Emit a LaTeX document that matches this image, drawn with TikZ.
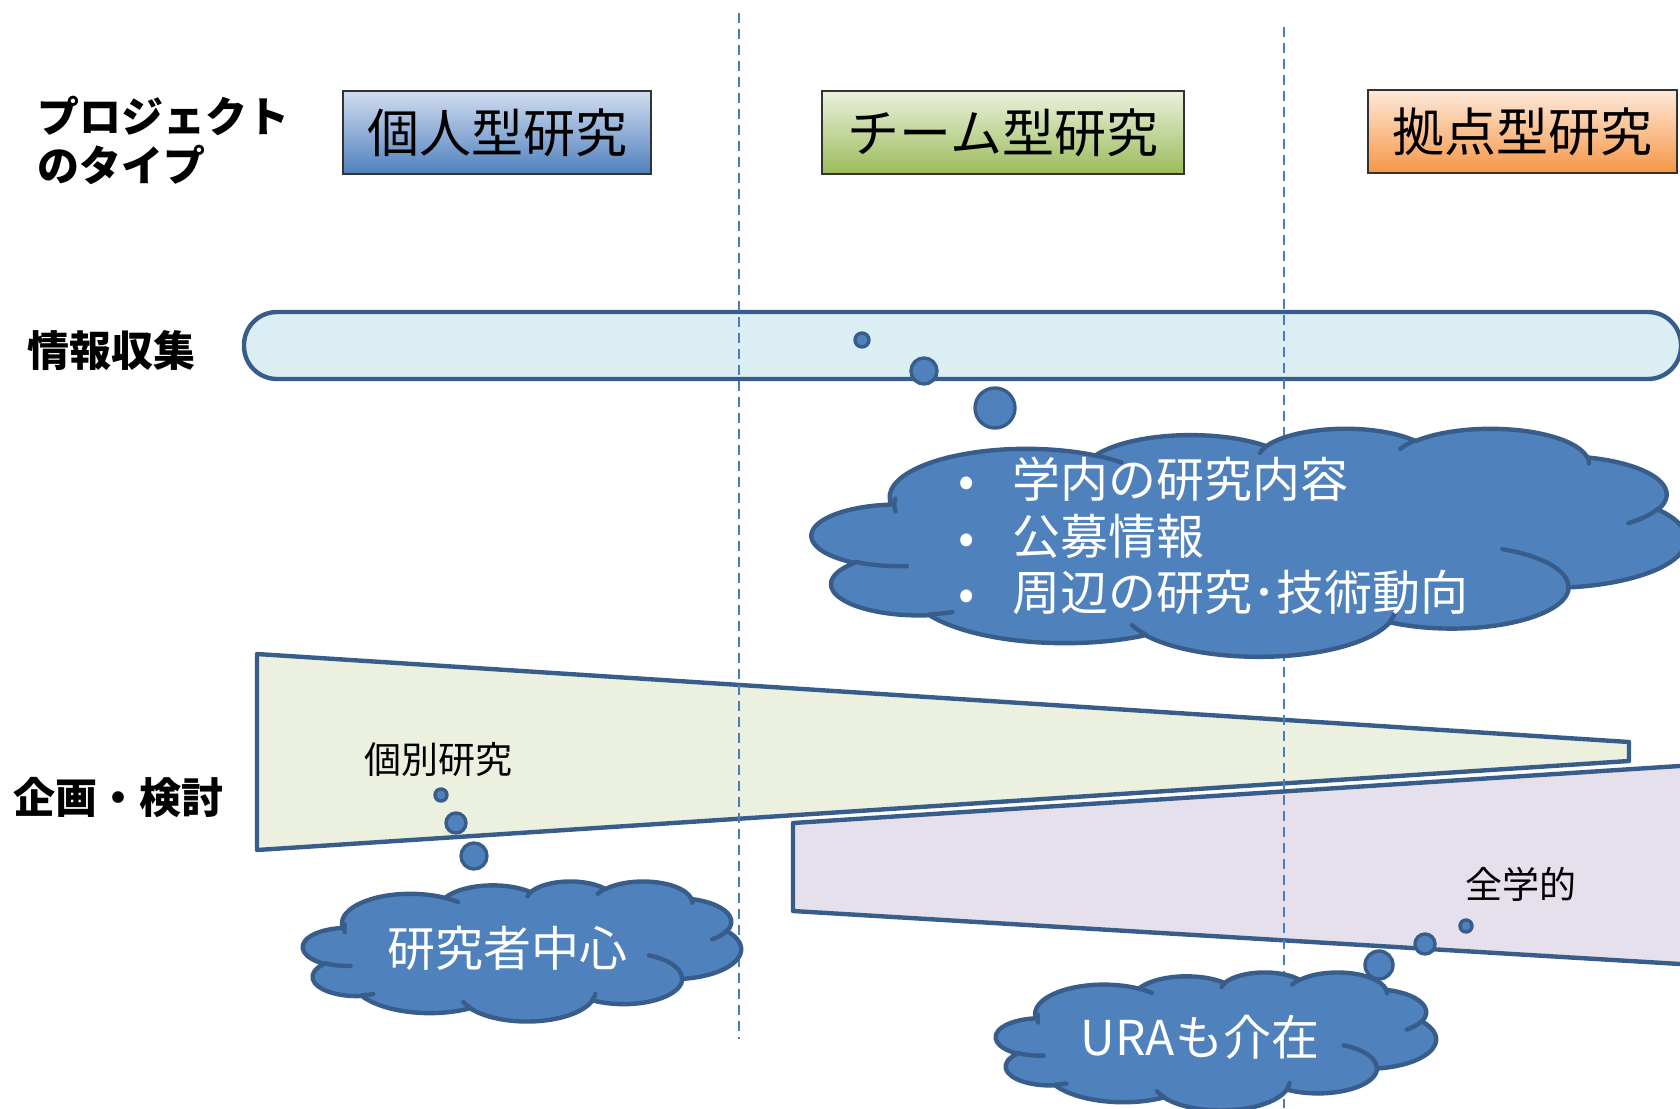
\documentclass[tikz,border=0pt]{standalone}
\usepackage{fontspec}
\setmainfont{Noto Sans CJK JP}
\definecolor{edge}{HTML}{385D8A}
\definecolor{cloudfill}{HTML}{4F81BD}
\definecolor{barfill}{HTML}{DBEEF4}
\definecolor{greenfill}{HTML}{EBF1DE}
\definecolor{purplefill}{HTML}{E5E0EC}
\definecolor{dashblue}{HTML}{4A7EBB}
\tikzset{
  declare function={
    vp(\cA,\cB,\cT)=atan2(\cA*sin(\cT),\cB*cos(\cT));
    dl(\cA,\cB,\cS,\cW)=vp(\cA,\cB,\cS+\cW)-vp(\cA,\cB,\cS)-360*round((vp(\cA,\cB,\cS+\cW)-vp(\cA,\cB,\cS)-\cW)/360);
  },
  oa/.style n args={4}{insert path={arc[x radius=#1, y radius=#2, start angle={vp(#1,#2,#3)}, delta angle={dl(#1,#2,#3,#4)}]}},
  typebox/.style={draw=black!80, line width=0.7pt, minimum height=41.5pt, inner sep=0pt, font=\fontsize{26}{30}\selectfont},
  cloudshape/.style={draw=edge, fill=cloudfill, line width=2.2pt, line join=round},
  cloudline/.style={draw=edge, line width=2.2pt, line cap=round},
  bubble/.style={draw=edge, fill=cloudfill, line width=1.7pt},
  sidelabel/.style={anchor=west, font=\fontsize{21}{24.5}\selectfont\bfseries, align=left, inner sep=0pt},
  cloudtext/.style={text=white, font=\fontsize{24}{28.25}\selectfont, inner sep=0pt},
  smalltext/.style={font=\fontsize{18.5}{22}\selectfont, inner sep=0pt},
  divider/.style={draw=dashblue, line width=0.8pt, dash pattern=on 5pt off 3pt}
}
% PowerPoint-like cloud in a frame: left x, top y, width, height (px)
\newcommand\pptcloud[4]{%
  \pgfmathsetmacro\cldsx{#3*0.5/432}%
  \pgfmathsetmacro\cldsy{#4*0.5/432}%
  \begin{scope}[shift={(#1,#2)}, x=\cldsx pt, y=-\cldsy pt]
    \path[cloudshape] (39.00,143.70)
      [oa={67.53}{91.90}{-190.48748}{123.78053}]
      [oa={53.33}{72.67}{-144.10238}{89.94523}]
      [oa={43.65}{59.45}{-145.80792}{99.72302}]
      [oa={48.57}{65.95}{-130.98607}{117.24173}]
      [oa={53.33}{72.73}{-78.70888}{109.02692}]
      [oa={67.75}{92.20}{-46.26725}{130.269}]
      [oa={57.85}{78.67}{0.62502}{114.03333}]
      [oa={67.52}{92.15}{22.45160}{115.17255}]
      [oa={77.20}{105.43}{66.24263}{75.71102}]
      [oa={43.60}{59.18}{-274.94208}{146.73557}]
      [oa={43.45}{59.45}{-246.8285}{152.51885}]
      -- cycle;
    \path[cloudline] (46.93,261.77) [oa={43.45}{59.45}{86.742}{26.4295}];
    \path[cloudline] (69.28,348.99) [oa={43.60}{59.18}{73.61047}{11.44747}];
    \path[cloudline] (164.78,390.90) [oa={67.52}{92.15}{137.62415}{14.0811}];
    \path[cloudline] (288.27,347.51) [oa={67.52}{92.15}{6.45327}{15.99835}];
    \path[cloudline] (341.29,229.54) [oa={57.85}{78.67}{-70.29235}{70.91737}];
    \path[cloudline] (417.98,153.54) [oa={53.33}{72.73}{30.31803}{27.7515}];
    \path[cloudline] (383.24,54.26) [oa={48.57}{65.95}{-13.74433}{14.8589}];
    \path[cloudline] (290.78,39.52) [oa={48.57}{65.95}{-149.18145}{18.19537}];
    \path[cloudline] (221.41,47.20) [oa={43.65}{59.45}{-163.49427}{17.68635}];
    \path[cloudline] (140.00,51.92) [oa={67.53}{91.90}{-66.70695}{12.31935}];
    \path[cloudline] (41.27,157.89) [oa={67.53}{91.90}{-190.48748}{20.33007}];
  \end{scope}}
\begin{document}
\begin{tikzpicture}[x=0.5pt,y=-0.5pt]
\useasboundingbox (0,0) rectangle (1680,1108);
\clip (0,0) rectangle (1680,1108);

% labels
\node[sidelabel] (ptype) at (37,140) {プロジェクト\\のタイプ};
\node[sidelabel] (info) at (27,351) {情報収集};
\node[sidelabel] (plan) at (13,798) {企画・検討};

% type boxes
\node[typebox, minimum width=154pt, top color=blue!10!cloudfill!25, bottom color=cloudfill] (t1) at (497,132.5) {個人型研究};
\node[typebox, minimum width=181pt, top color=greenfill, bottom color={rgb,255:red,155;green,187;blue,89}] (t2) at (1003,132.5) {チーム型研究};
\node[typebox, minimum width=154.5pt, top color={rgb,255:red,253;green,233;blue,217}, bottom color={rgb,255:red,247;green,150;blue,70}] (t3) at (1522.5,131.5) {拠点型研究};

% info bar
\draw[edge, line width=2.2pt, fill=barfill, rounded corners=16.5pt] (244,312) rectangle (1681,379);

% trapezoids
\draw[edge, line width=2.2pt, fill=purplefill, line join=round] (793,823) -- (1700,764.7) -- (1700,965.2) -- (793,911) -- cycle;
\draw[edge, line width=2.2pt, fill=greenfill, line join=round] (257,654) -- (1629,742) -- (1629,761) -- (257,850) -- cycle;

% dividers
\coordinate (d1a) at (739,13);
\coordinate (d1b) at (739,1039);
\coordinate (d2a) at (1284,27);
\coordinate (d2b) at (1284,1108);
\draw[divider] (d1a) -- (d1b);
\draw[divider] (d2a) -- (d2b);

% small labels
\node[smalltext] (kobetsu) at (438,759) {個別研究};
\node[smalltext] (zengaku) at (1521,884) {全学的};

% clouds
\pptcloud{812}{428}{874}{228}
\node[cloudtext, align=left, anchor=west] (c1t) at (958,536) {\makebox[27pt][l]{•}学内の研究内容\\\makebox[27pt][l]{•}公募情報\\\makebox[27pt][l]{•}周辺の研究･技術動向};
\pptcloud{303}{881}{438}{140}
\node[cloudtext] (c2t) at (507,948) {研究者中心};
\pptcloud{996}{972}{440}{138}
\node[cloudtext] (c3t) at (1200,1037) {URAも介在};

% bubbles
\draw[bubble] (862,340) circle[radius=3.5pt];
\draw[bubble] (924,371) circle[radius=6.5pt];
\draw[bubble] (995,408) circle[radius=10pt];
\draw[bubble] (441,795) circle[radius=3pt];
\draw[bubble] (456,823) circle[radius=5pt];
\draw[bubble] (474,856) circle[radius=6.5pt];
\draw[bubble] (1466,926) circle[radius=3pt];
\draw[bubble] (1425,944) circle[radius=5pt];
\draw[bubble] (1379,965) circle[radius=7pt];
\end{tikzpicture}
\end{document}
